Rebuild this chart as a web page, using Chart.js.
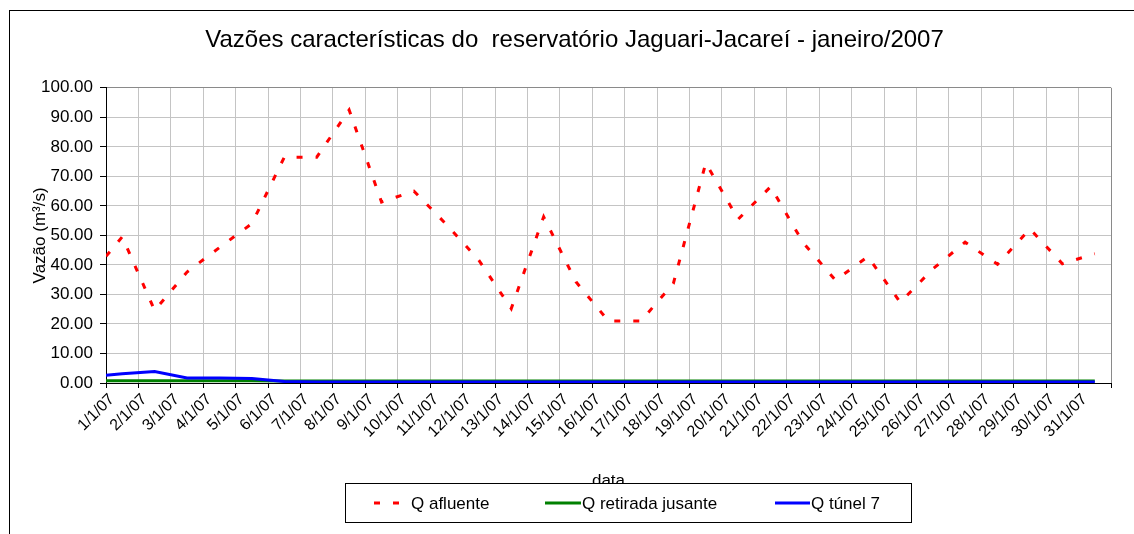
<!DOCTYPE html>
<html>
<head>
<meta charset="utf-8">
<script src="https://cdn.jsdelivr.net/npm/chart.js@4.4.1/dist/chart.umd.min.js"></script>
<style>
  html, body { margin: 0; padding: 0; background: #fff; overflow: hidden; }
  #wrap { position: relative; width: 1134px; height: 534px; }
  #c { position: absolute; left: 0; top: 0; }
  #frame { position: absolute; left: 9px; top: 10px; width: 2000px; height: 2000px;
           border-left: 1px solid #000; border-top: 1px solid #000; pointer-events: none; }
</style>
</head>
<body>
<div id="wrap">
  <canvas id="c" width="1134" height="534"></canvas>
  <div id="frame"></div>
</div>
<script>
// ---- Data ----
const rotulosDatas = ['1/1/07','2/1/07','3/1/07','4/1/07','5/1/07','6/1/07','7/1/07','8/1/07','9/1/07','10/1/07',
  '11/1/07','12/1/07','13/1/07','14/1/07','15/1/07','16/1/07','17/1/07','18/1/07','19/1/07','20/1/07',
  '21/1/07','22/1/07','23/1/07','24/1/07','25/1/07','26/1/07','27/1/07','28/1/07','29/1/07','30/1/07','31/1/07'];

// sample times, in days counted from 1/1/07 00:00
const tempoDias = [0, 0.5, 1.5, 2.5, 3.5, 4.5, 5.5, 6.5, 7.5, 8.5, 9.5, 10.5, 11.5, 12.5, 13.5, 14.5,
  15.5, 16.5, 17.5, 18.5, 19.5, 20.5, 21.5, 22.5, 23.5, 24.5, 25.5, 26.5, 27.5, 28.5, 29.5, 30.5];

const qAfluente = [42.9, 49.5, 24.6, 37.6, 45.9, 54.0, 76.5, 76.5, 92.5, 61.3, 65.0, 53.7, 41.6, 25.2, 56.3, 34.2,
  21.0, 21.0, 33.7, 74.5, 55.5, 66.5, 47.6, 34.8, 42.8, 27.3, 38.6, 47.7, 40.2, 52.2, 40.4, 43.8];

const qRetiradaJusante = [0.8, 0.8, 0.8, 0.8, 0.8, 0.8, 0.7, 0.7, 0.7, 0.7, 0.7, 0.7, 0.7, 0.7, 0.7, 0.7,
  0.7, 0.7, 0.7, 0.7, 0.7, 0.7, 0.7, 0.7, 0.7, 0.7, 0.7, 0.7, 0.7, 0.7, 0.7, 0.7];

const qTunel7 = [2.6, 3.1, 3.9, 1.7, 1.7, 1.5, 0.5, 0.3, 0.3, 0.3, 0.3, 0.3, 0.3, 0.3, 0.3, 0.3,
  0.3, 0.3, 0.3, 0.3, 0.3, 0.3, 0.3, 0.3, 0.3, 0.3, 0.3, 0.3, 0.3, 0.3, 0.3, 0.3];

const nomesSeries = ['Q afluente', 'Q retirada jusante', 'Q túnel 7'];
const coresSeries = ['#ff0000', '#008000', '#0000ff'];
const tituloGrafico = 'Vazões características do  reservatório Jaguari-Jacareí - janeiro/2007';
const tituloY = 'Vazão (m³/s)';
const tituloX = 'data';

const FONT = '"Liberation Sans", Arial, sans-serif';
const pts = arr => arr.map((v, i) => ({ x: tempoDias[i], y: v }));

const legendaPlugin = {
  id: 'legendaCaixa',
  afterDraw(chart) {
    const ctx = chart.ctx;
    ctx.save();
    const bx = 345, by = 483, bw = 566, bh = 39;
    ctx.fillStyle = '#fff';
    ctx.fillRect(bx, by, bw, bh);
    ctx.strokeStyle = '#000';
    ctx.lineWidth = 1;
    ctx.strokeRect(bx + 0.5, by + 0.5, bw, bh);
    const cy = by + 20;
    const items = [
      { x0: 374, x1: 400, tx: 411, dash: [6, 13] },
      { x0: 545, x1: 581, tx: 582, dash: [] },
      { x0: 775, x1: 810, tx: 811, dash: [] }
    ];
    ctx.font = '17px ' + FONT;
    ctx.textBaseline = 'middle';
    ctx.textAlign = 'left';
    items.forEach((it, i) => {
      ctx.beginPath();
      ctx.setLineDash(it.dash);
      ctx.lineCap = 'butt';
      ctx.lineWidth = 3;
      ctx.strokeStyle = coresSeries[i];
      ctx.moveTo(it.x0, cy);
      ctx.lineTo(it.x1, cy);
      ctx.stroke();
      ctx.setLineDash([]);
      ctx.fillStyle = '#000';
      ctx.fillText(nomesSeries[i], it.tx, cy + 1);
    });
    ctx.restore();
  }
};

new Chart(document.getElementById('c'), {
  type: 'line',
  data: {
    datasets: [
      { label: nomesSeries[0], data: pts(qAfluente), borderColor: coresSeries[0], borderWidth: 3,
        borderDash: [6, 13], borderCapStyle: 'butt', pointRadius: 0, tension: 0, order: 0 },
      { label: nomesSeries[1], data: pts(qRetiradaJusante), borderColor: coresSeries[1], borderWidth: 3,
        pointRadius: 0, tension: 0, order: 2 },
      { label: nomesSeries[2], data: pts(qTunel7), borderColor: coresSeries[2], borderWidth: 3,
        pointRadius: 0, tension: 0, order: 1 }
    ]
  },
  options: {
    responsive: false,
    animation: false,
    events: [],
    layout: { padding: { left: 38, right: 23, top: 0, bottom: 0 } },
    plugins: {
      legend: { display: false },
      tooltip: { enabled: false },
      title: {
        display: true,
        text: tituloGrafico,
        color: '#000',
        font: { family: FONT, size: 24, weight: 'normal' },
        padding: { top: 26, bottom: 33 }
      }
    },
    scales: {
      x: {
        type: 'linear',
        min: 0,
        max: 31,
        afterFit(scale) { scale.height = 151; },
        afterBuildTicks(scale) {
          scale.ticks = rotulosDatas.map((_, i) => ({ value: i })).concat([{ value: rotulosDatas.length }]);
        },
        ticks: {
          autoSkip: false,
          minRotation: 45,
          maxRotation: 45,
          padding: 2,
          labelOffset: 6,
          color: '#000',
          font: { family: FONT, size: 16 },
          callback: (v) => rotulosDatas[v] !== undefined ? rotulosDatas[v] : ''
        },
        grid: { color: ctx => (ctx.tick && ctx.tick.value === 31) ? '#8a8a8a' : '#c4c4c4',
                lineWidth: 1, tickLength: 5, tickColor: '#000' },
        border: { color: '#000', width: 1 },
        title: { display: true, text: tituloX, color: '#000',
                 font: { family: FONT, size: 17 }, padding: { top: 0, bottom: 42 } }
      },
      y: {
        min: 0,
        max: 100,
        afterFit(scale) { scale.width = 68; },
        ticks: {
          stepSize: 10,
          padding: 7,
          color: '#000',
          font: { family: FONT, size: 17 },
          callback: v => Number(v).toFixed(2)
        },
        grid: { color: ctx => (ctx.tick && ctx.tick.value === 100) ? '#8a8a8a' : '#c4c4c4',
                lineWidth: 1, tickLength: 6, tickColor: '#000' },
        border: { color: '#000', width: 1 },
        title: { display: true, text: tituloY, color: '#000',
                 font: { family: FONT, size: 17 }, padding: { top: -8, bottom: 0 } }
      }
    }
  },
  plugins: [legendaPlugin]
});
</script>
</body>
</html>
